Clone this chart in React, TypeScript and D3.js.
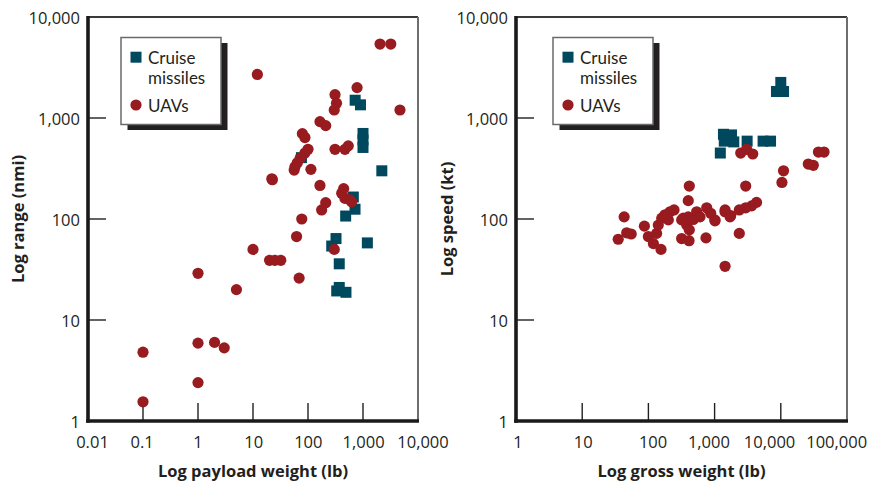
import React from "react";
import * as d3 from "d3";

// ---------- Data ----------
const yTickValues = [1, 10, 100, 1000, 10000];
const yTickLabels = ["1", "10", "100", "1,000", "10,000"];

const payloadTickValues = [0.01, 0.1, 1, 10, 100, 1000, 10000];
const payloadTickLabels = ["0.01", "0.1", "1", "10", "100", "1,000", "10,000"];

const grossTickValues = [1, 10, 100, 1000, 10000, 100000];
const grossTickLabels = ["1", "10", "100", "1,000", "10,000", "100,000"];

const seriesNames = ["Cruise", "missiles", "UAVs"];

// Left: payload (lb) vs range (nmi)
const cmPayload = [720, 900, 1000, 1000, 1000, 2200, 76, 667, 716, 484, 323, 270, 1200, 370, 370, 333, 490];
const cmRange = [1500, 1350, 703, 606, 511, 300, 405, 165, 125, 107, 64, 54, 58, 36, 21, 19.4, 18.8];

const uavPayload = [2040, 3200, 12, 780, 310, 330, 300, 4700, 165, 210, 79, 88, 310, 470, 540, 100, 88, 72, 64, 58, 56, 113, 22, 22.5, 165, 445, 410, 470, 580, 620, 210, 177, 77, 62, 300, 10, 20, 25, 32, 1, 69, 5, 1, 2, 3, 0.1, 1, 0.1];
const uavRange = [5400, 5400, 2700, 2000, 1700, 1400, 1200, 1200, 920, 840, 700, 640, 490, 490, 530, 490, 450, 400, 360, 330, 305, 310, 250, 245, 215, 200, 180, 160, 155, 148, 145, 123, 100, 67, 50, 50, 39, 39, 39, 29, 26, 20, 5.9, 6, 5.3, 4.8, 2.4, 1.55];

// Right: gross weight (lb) vs speed (kt)
const cmGross = [10000, 8600, 11000, 1360, 1800, 1400, 1950, 3100, 5400, 7000, 1220];
const cmSpeed = [2250, 1830, 1830, 690, 680, 590, 580, 590, 590, 590, 450];

const uavGross = [2480, 3050, 3770, 37000, 45000, 26000, 31000, 11000, 10400, 2950, 4300, 3630, 2950, 2360, 1440, 1750, 1010, 415, 400, 43, 87, 47, 55, 35, 100, 119, 155, 133, 141, 159, 200, 212, 244, 178, 318, 411, 741, 337, 400, 477, 379, 415, 536, 602, 760, 873, 1014, 1436, 318, 1440, 1710, 2360];
const uavSpeed = [450, 490, 440, 460, 460, 350, 340, 300, 230, 212, 146, 135, 129, 123, 123, 108, 98, 212, 152, 105, 85, 73, 71, 63, 67, 57, 50, 72, 87, 102, 98, 118, 123, 110, 64, 61, 65, 102, 105, 99, 87, 78, 118, 105, 129, 114, 96, 118, 98, 34, 105, 72];

// ---------- Style ----------
const FONT = "'Open Sans', 'Noto Sans', sans-serif";
const LEGEND_FONT = "Lato, 'Open Sans', sans-serif";
const CM_COLOR = "#00485e";
const UAV_COLOR = "#981b20";
const SQ = 11;
const R = 5.6;

const Y0 = 17;
const Y1 = 421;

interface PanelProps {
  x0: number;
  x1: number;
  xDomain: [number, number];
  xTicks: number[];
  xLabels: string[];
  xLabelDx: number[];
  xTitle: string;
  yTitle: string;
  yTitleX: number;
  cmX: number[];
  cmY: number[];
  uX: number[];
  uY: number[];
  legendX: number;
}

function Panel(p: PanelProps) {
  const x = d3.scaleLog().domain(p.xDomain).range([p.x0, p.x1]);
  const y = d3.scaleLog().domain([1, 10000]).range([Y1, Y0]);
  const tickLen = 18;
  const innerX = p.xTicks.slice(1, -1);
  const innerY = yTickValues.slice(1, -1);
  const bx = p.legendX;
  const by = 37.5;
  const bw = 100;
  const bh = 87;
  return (
    <g>
      {/* ticks */}
      {innerX.map((t) => (
        <line key={"xt" + t} x1={x(t)} x2={x(t)} y1={Y1} y2={Y1 - tickLen} stroke="#231f20" strokeWidth={1.4} />
      ))}
      {innerY.map((t) => (
        <line key={"yt" + t} x1={p.x0} x2={p.x0 + tickLen} y1={y(t)} y2={y(t)} stroke="#231f20" strokeWidth={1.4} />
      ))}
      {/* frame */}
      <line x1={p.x0} x2={p.x1} y1={Y0} y2={Y0} stroke="#3a3a3a" strokeWidth={1.8} />
      <line x1={p.x1} x2={p.x1} y1={Y0} y2={Y1} stroke="#6e6e6e" strokeWidth={2} />
      <line x1={p.x0} x2={p.x0} y1={Y0 - 1} y2={Y1 + 1.7} stroke="#1a1a1a" strokeWidth={3.6} />
      <line x1={p.x0 - 1.8} x2={p.x1 + 1} y1={Y1} y2={Y1} stroke="#1a1a1a" strokeWidth={3.4} />
      {/* x tick labels */}
      {p.xTicks.map((t, i) => (
        <text key={"xl" + t} x={x(t) + p.xLabelDx[i]} y={447.5} textAnchor="middle" fontSize={16.5} fill="#231f20" fontFamily={FONT}>
          {p.xLabels[i]}
        </text>
      ))}
      {/* y tick labels */}
      {yTickValues.map((t, i) => (
        <text key={"yl" + t} x={p.x0 - 8} y={y(t) + 6.5} textAnchor="end" fontSize={16.5} fill="#231f20" fontFamily={FONT}>
          {yTickLabels[i]}
        </text>
      ))}
      {/* titles */}
      <text x={(p.x0 + p.x1) / 2} y={477} textAnchor="middle" fontSize={16.5} fontWeight="bold" fill="#231f20" fontFamily={FONT}>
        {p.xTitle}
      </text>
      <text
        transform={`translate(${p.yTitleX},${(Y0 + Y1) / 2}) rotate(-90)`}
        textAnchor="middle"
        fontSize={16.5}
        fontWeight="bold"
        fill="#231f20"
        fontFamily={FONT}
      >
        {p.yTitle}
      </text>
      {/* points */}
      {p.cmX.map((v, i) => (
        <rect key={"c" + i} x={x(v) - SQ / 2} y={y(p.cmY[i]) - SQ / 2} width={SQ} height={SQ} fill={CM_COLOR} />
      ))}
      {p.uX.map((v, i) => (
        <circle key={"u" + i} cx={x(v)} cy={y(p.uY[i])} r={R} fill={UAV_COLOR} />
      ))}
      {/* legend */}
      <rect x={bx + 6.5} y={by + 5.5} width={bw} height={bh} fill="#231f20" />
      <rect x={bx} y={by} width={bw} height={bh} fill="#fff" stroke="#6a6a6a" strokeWidth={1.5} />
      <rect x={bx + 9.5} y={by + 14.2} width={SQ} height={SQ} fill={CM_COLOR} />
      <circle cx={bx + 15} cy={by + 67.5} r={R} fill={UAV_COLOR} />
      <text x={bx + 27} y={by + 26} fontSize={17} fill="#231f20" fontFamily={LEGEND_FONT}>{seriesNames[0]}</text>
      <text x={bx + 27} y={by + 46.5} fontSize={17} fill="#231f20" fontFamily={LEGEND_FONT}>{seriesNames[1]}</text>
      <text x={bx + 27} y={by + 74} fontSize={17} fill="#231f20" fontFamily={LEGEND_FONT}>{seriesNames[2]}</text>
    </g>
  );
}

export default function App() {
  return (
    <svg
      width={873}
      height={483}
      viewBox="0 0 873 483"
      style={{ position: "absolute", left: 0, top: 0, background: "#fff" }}
    >
      <rect x={0} y={0} width={873} height={483} fill="#fff" />
      <Panel
        x0={88}
        x1={418}
        xDomain={[0.01, 10000]}
        xTicks={payloadTickValues}
        xLabels={payloadTickLabels}
        xLabelDx={[4.5, -0.8, 0, 0.7, 0.3, 0.6, 5]}
        xTitle="Log payload weight (lb)"
        yTitle="Log range (nmi)"
        yTitleX={24}
        cmX={cmPayload}
        cmY={cmRange}
        uX={uavPayload}
        uY={uavRange}
        legendX={121}
      />
      <Panel
        x0={516}
        x1={847}
        xDomain={[1, 100000]}
        xTicks={grossTickValues}
        xLabels={grossTickLabels}
        xLabelDx={[2, 1, 4.7, -5.7, -11.2, -10.3]}
        xTitle="Log gross weight (lb)"
        yTitle="Log speed (kt)"
        yTitleX={453}
        cmX={cmGross}
        cmY={cmSpeed}
        uX={uavGross}
        uY={uavSpeed}
        legendX={553}
      />
    </svg>
  );
}
